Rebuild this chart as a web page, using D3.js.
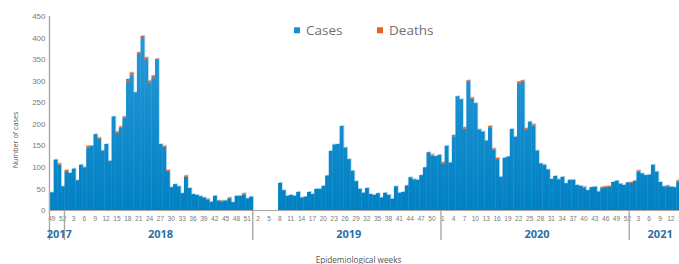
<!DOCTYPE html>
<html>
<head>
<meta charset="utf-8">
<script src="https://cdn.jsdelivr.net/npm/d3@7"></script>
<style>
  body { margin: 0; background: #fff; }
  svg { display: block; font-family: "Liberation Sans Narrow", "Open Sans", sans-serif; }
</style>
</head>
<body>
<svg id="chart" width="679" height="264"></svg>
<script>
// weeks shown per year (epidemiological weeks)
const years = [2017, 2018, 2019, 2020, 2021];
const firstWeek = [49, 1, 1, 1, 1];
const lastWeek = [52, 52, 52, 52, 16];

// weekly counts, one array per year
const cases2017 = [41, 117, 105, 55];
const deaths2017 = [0, 0, 3, 0];
const cases2018 = [90, 86, 96, 69, 105, 98, 145, 149, 176, 165, 138, 153, 114, 217, 179, 191, 214, 299, 314, 273,
  362, 399, 350, 296, 308, 348, 153, 147, 90, 53, 60, 55, 39, 77, 51, 37, 35, 32, 29, 24,
  19, 33, 22, 20, 22, 27, 18, 33, 33, 36, 27, 31];
const deaths2018 = [3, 0, 0, 0, 0, 2, 4, 0, 0, 3, 0, 0, 0, 0, 3, 3, 3, 5, 5, 0,
  4, 5, 4, 4, 4, 3, 0, 2, 3, 0, 0, 0, 0, 3, 0, 0, 0, 0, 0, 2,
  0, 0, 0, 2, 0, 2, 0, 0, 0, 3, 0, 0];
const cases2019 = [0, 0, 0, 0, 0, 0, 0, 63, 46, 33, 35, 33, 42, 29, 31, 42, 37, 49, 49, 56,
  80, 137, 152, 153, 195, 145, 118, 91, 67, 49, 40, 51, 37, 35, 39, 29, 40, 35, 26, 55,
  40, 42, 57, 76, 70, 70, 81, 99, 134, 126, 125, 128];
const deaths2019 = [0, 0, 0, 0, 0, 0, 0, 0, 0, 0, 0, 0, 0, 0, 0, 0, 0, 0, 0, 0,
  0, 0, 0, 0, 0, 0, 0, 0, 0, 0, 0, 0, 0, 0, 0, 0, 0, 0, 0, 0,
  0, 0, 0, 0, 2, 0, 0, 0, 0, 3, 0, 0];
const cases2020 = [108, 149, 110, 171, 264, 257, 189, 297, 258, 248, 187, 182, 161, 192, 140, 118, 77, 121, 124, 188,
  170, 294, 297, 187, 205, 196, 138, 108, 105, 94, 72, 79, 70, 77, 62, 70, 70, 58, 56, 52,
  46, 53, 54, 43, 52, 53, 54, 65, 68, 61, 58, 64];
const deaths2020 = [3, 0, 0, 3, 0, 0, 3, 4, 3, 0, 0, 0, 0, 3, 3, 3, 0, 0, 0, 0,
  0, 4, 4, 3, 0, 3, 0, 0, 0, 0, 0, 0, 2, 0, 0, 0, 0, 0, 0, 2,
  0, 0, 0, 0, 2, 2, 2, 0, 0, 0, 0, 0];
const cases2021 = [63, 68, 89, 85, 81, 82, 105, 89, 65, 55, 55, 54, 53, 66, 62];
const deaths2021 = [2, 0, 3, 0, 0, 0, 0, 0, 0, 0, 2, 0, 0, 3, 0];

const yTicks = [0, 50, 100, 150, 200, 250, 300, 350, 400, 450];

const blue = "#1a8fd2";
const orange = "#e5622a";
const grey = "#a8a8a8";

// build the week list and rows
const weeks = [];
years.forEach((yr, k) => {
  for (let w = firstWeek[k]; w <= lastWeek[k]; w++) weeks.push({ year: yr, week: w });
});
const allCases = [].concat(cases2017, cases2018, cases2019, cases2020, cases2021);
const allDeaths = [].concat(deaths2017, deaths2018, deaths2019, deaths2020, deaths2021);
const rows = allCases.map((c, i) => ({ i: i, cases: c, deaths: allDeaths[i] }));

const svg = d3.select("#chart");
const barW = 3.62;
const plotLeft = 50, plotBase = 210, plotTop = 16;

const x = d3.scaleBand()
  .domain(d3.range(weeks.length))
  .range([plotLeft, plotLeft + barW * weeks.length])
  .padding(0);
const y = d3.scaleLinear().domain([0, 450]).range([plotBase, plotTop]);

// gradient for case bars
const grad = svg.append("defs").append("linearGradient")
  .attr("id", "caseFill").attr("gradientUnits", "userSpaceOnUse")
  .attr("x1", 0).attr("y1", plotTop).attr("x2", 0).attr("y2", plotBase);
grad.append("stop").attr("offset", "0%").attr("stop-color", "#2d9ad9");
grad.append("stop").attr("offset", "100%").attr("stop-color", "#0081c3");

const stack = d3.stack().keys(["cases", "deaths"])(rows);

// light halo behind the bars
svg.append("g").selectAll("rect")
  .data(rows.filter(d => d.cases + d.deaths > 0))
  .join("rect")
  .attr("x", d => x(d.i) + 1.2)
  .attr("y", d => y(d.cases + d.deaths) - 0.9)
  .attr("width", x.bandwidth())
  .attr("height", d => plotBase - y(d.cases + d.deaths) + 0.9)
  .attr("fill", "#b6dcf1");

svg.append("g").selectAll("g")
  .data(stack)
  .join("g")
  .attr("fill", s => s.key === "cases" ? "url(#caseFill)" : orange)
  .selectAll("rect")
  .data(s => s.filter(d => d[1] > d[0]))
  .join("rect")
  .attr("x", d => x(d.data.i))
  .attr("y", d => y(d[1]))
  .attr("width", x.bandwidth() + 0.3)
  .attr("height", d => y(d[0]) - y(d[1]));

// y axis
const yAxis = svg.append("g")
  .attr("transform", `translate(${plotLeft - 0.5},0)`)
  .call(d3.axisLeft(y).tickValues(yTicks).tickSize(0).tickPadding(4));
yAxis.select(".domain").remove();
yAxis.selectAll("text").attr("fill", "#7a7a7a").attr("font-size", 8);

// x axis (week numbers)
const xAxis = svg.append("g")
  .attr("transform", `translate(0,${plotBase})`)
  .call(d3.axisBottom(x)
    .tickValues(d3.range(0, weeks.length, 3))
    .tickFormat(i => weeks[i].week)
    .tickSize(0).tickPadding(6.5));
xAxis.select(".domain").remove();
xAxis.selectAll("text").attr("fill", "#7a7a7a").attr("font-size", 6.6);

// axis lines and year separators
svg.append("line")
  .attr("x1", plotLeft).attr("x2", 679).attr("y1", plotBase + 0.5).attr("y2", plotBase + 0.5)
  .attr("stroke", grey).attr("stroke-width", 1.2);
svg.append("line")
  .attr("x1", plotLeft - 0.5).attr("x2", plotLeft - 0.5).attr("y1", plotTop).attr("y2", 240)
  .attr("stroke", grey).attr("stroke-width", 1.4);

const yearStart = years.map(yr => weeks.findIndex(w => w.year === yr));
const yearEnd = years.map(yr => d3.max(weeks.map((w, i) => w.year === yr ? i : -1)));

svg.append("g").selectAll("line")
  .data(yearStart.slice(1))
  .join("line")
  .attr("x1", i => x(i)).attr("x2", i => x(i))
  .attr("y1", plotBase).attr("y2", 240)
  .attr("stroke", grey).attr("stroke-width", 1.4);

svg.append("g").selectAll("text")
  .data(years)
  .join("text")
  .attr("x", (yr, k) => (x(yearStart[k]) + x(yearEnd[k]) + x.bandwidth()) / 2 + 2)
  .attr("y", 238.3)
  .attr("text-anchor", "middle")
  .attr("font-size", 11)
  .attr("font-weight", "bold")
  .attr("fill", "#2c6ea6")
  .text(yr => yr);

// axis titles
svg.append("text")
  .attr("transform", "translate(17.5,140) rotate(-90)")
  .attr("text-anchor", "middle")
  .attr("font-size", 7.2)
  .attr("fill", "#5a5a5a")
  .text("Number of cases");

svg.append("text")
  .attr("x", 358.5).attr("y", 262.5)
  .attr("text-anchor", "middle")
  .attr("font-size", 8.2)
  .attr("fill", "#555")
  .text("Epidemiological weeks");

// legend
const legend = [
  { name: "Cases", color: blue, x: 294 },
  { name: "Deaths", color: orange, x: 377 }
];
const lg = svg.append("g").selectAll("g").data(legend).join("g");
lg.append("rect")
  .attr("x", d => d.x).attr("y", 27.3)
  .attr("width", 6).attr("height", 6)
  .attr("fill", d => d.color);
lg.append("text")
  .attr("x", d => d.x + 12).attr("y", 34.5)
  .attr("font-size", 13.5)
  .attr("fill", "#707070")
  .text(d => d.name);
</script>
</body>
</html>
